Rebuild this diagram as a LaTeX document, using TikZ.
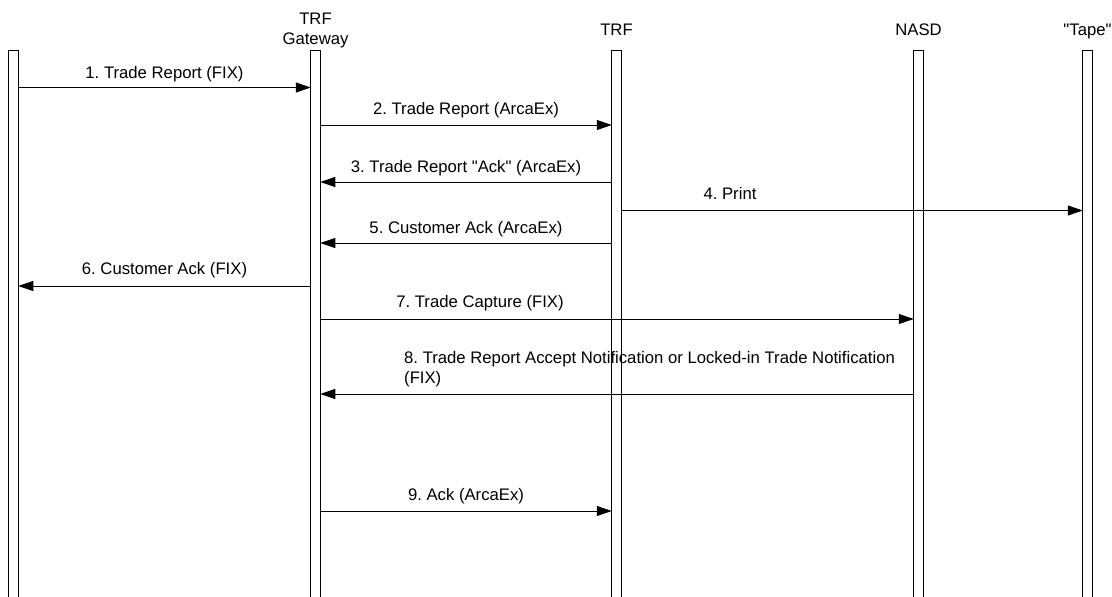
\documentclass[tikz,border=0pt]{standalone}
\usepackage{fontspec}
\setmainfont{Liberation Sans}
\usetikzlibrary{arrows.meta}
\begin{document}
\frenchspacing
\begin{tikzpicture}[x=1pt,y=-1pt,
  lifeline/.style={draw=black, line width=0.9pt, minimum width=9.5pt, minimum height=560pt, inner sep=0pt, outer sep=0pt, anchor=north},
  head/.style={font=\fontsize{16.7}{20}\selectfont, align=center, inner sep=0pt},
  lbl/.style={font=\fontsize{16.7}{20}\selectfont, inner sep=0pt, anchor=base},
  msg/.style={draw=black, line width=0.9pt, -{Triangle[length=15pt,width=10pt]}}
]
\useasboundingbox (0,0) rectangle (1112,597);
\fill[white] (0,0) rectangle (1112,597);
% lifelines
\node[lifeline] (l1) at (13.5,50) {};
\node[lifeline] (l2) at (315.5,50) {};
\node[lifeline] (l3) at (616.5,50) {};
\node[lifeline] (l4) at (918.5,50) {};
\node[lifeline] (l5) at (1087.5,50) {};
% heads
\node[head, anchor=north] (h2) at (315.5,13) {TRF\\Gateway};
\node[head, anchor=base] (h3) at (616.5,35) {TRF};
\node[head, anchor=base] (h4) at (918.5,35) {NASD};
\node[head, anchor=base] (h5) at (1087.5,35) {\textquotedbl Tape\textquotedbl};
% message levels
\coordinate (m1) at (0,87.5);
\coordinate (m2) at (0,125);
\coordinate (m3) at (0,182);
\coordinate (m4) at (0,210.5);
\coordinate (m5) at (0,243);
\coordinate (m6) at (0,286);
\coordinate (m7) at (0,319);
\coordinate (m8) at (0,394);
\coordinate (m9) at (0,511);
% messages
\draw[msg] (l1.east |- m1) -- (l2.west |- m1);
\draw[msg] (l2.east |- m2) -- (l3.west |- m2);
\draw[msg] (l3.west |- m3) -- (l2.east |- m3);
\draw[msg] (l3.east |- m4) -- (l5.west |- m4);
\draw[msg] (l3.west |- m5) -- (l2.east |- m5);
\draw[msg] (l2.west |- m6) -- (l1.east |- m6);
\draw[msg] (l2.east |- m7) -- (l4.west |- m7);
\draw[msg] (l4.west |- m8) -- (l2.east |- m8);
\draw[msg] (l2.east |- m9) -- (l3.west |- m9);
% labels
\node[lbl] (t1) at (164.5,78) {1. Trade Report (FIX)};
\node[lbl] (t2) at (466,114) {2. Trade Report (ArcaEx)};
\node[lbl] (t3) at (466,172) {3. Trade Report \textquotedbl Ack\textquotedbl{} (ArcaEx)};
\node[lbl] (t4) at (730,199) {4. Print};
\node[lbl] (t5) at (466,233) {5. Customer Ack (ArcaEx)};
\node[lbl] (t6) at (164.5,274) {6. Customer Ack (FIX)};
\node[lbl] (t7) at (480,307) {7. Trade Capture (FIX)};
\node[lbl, align=left, anchor=north west] (t8) at (404,351) {8. Trade Report Accept Notification or Locked-in Trade Notification\\(FIX)};
\node[lbl] (t9) at (466,500) {9. Ack (ArcaEx)};
\end{tikzpicture}
\end{document}
